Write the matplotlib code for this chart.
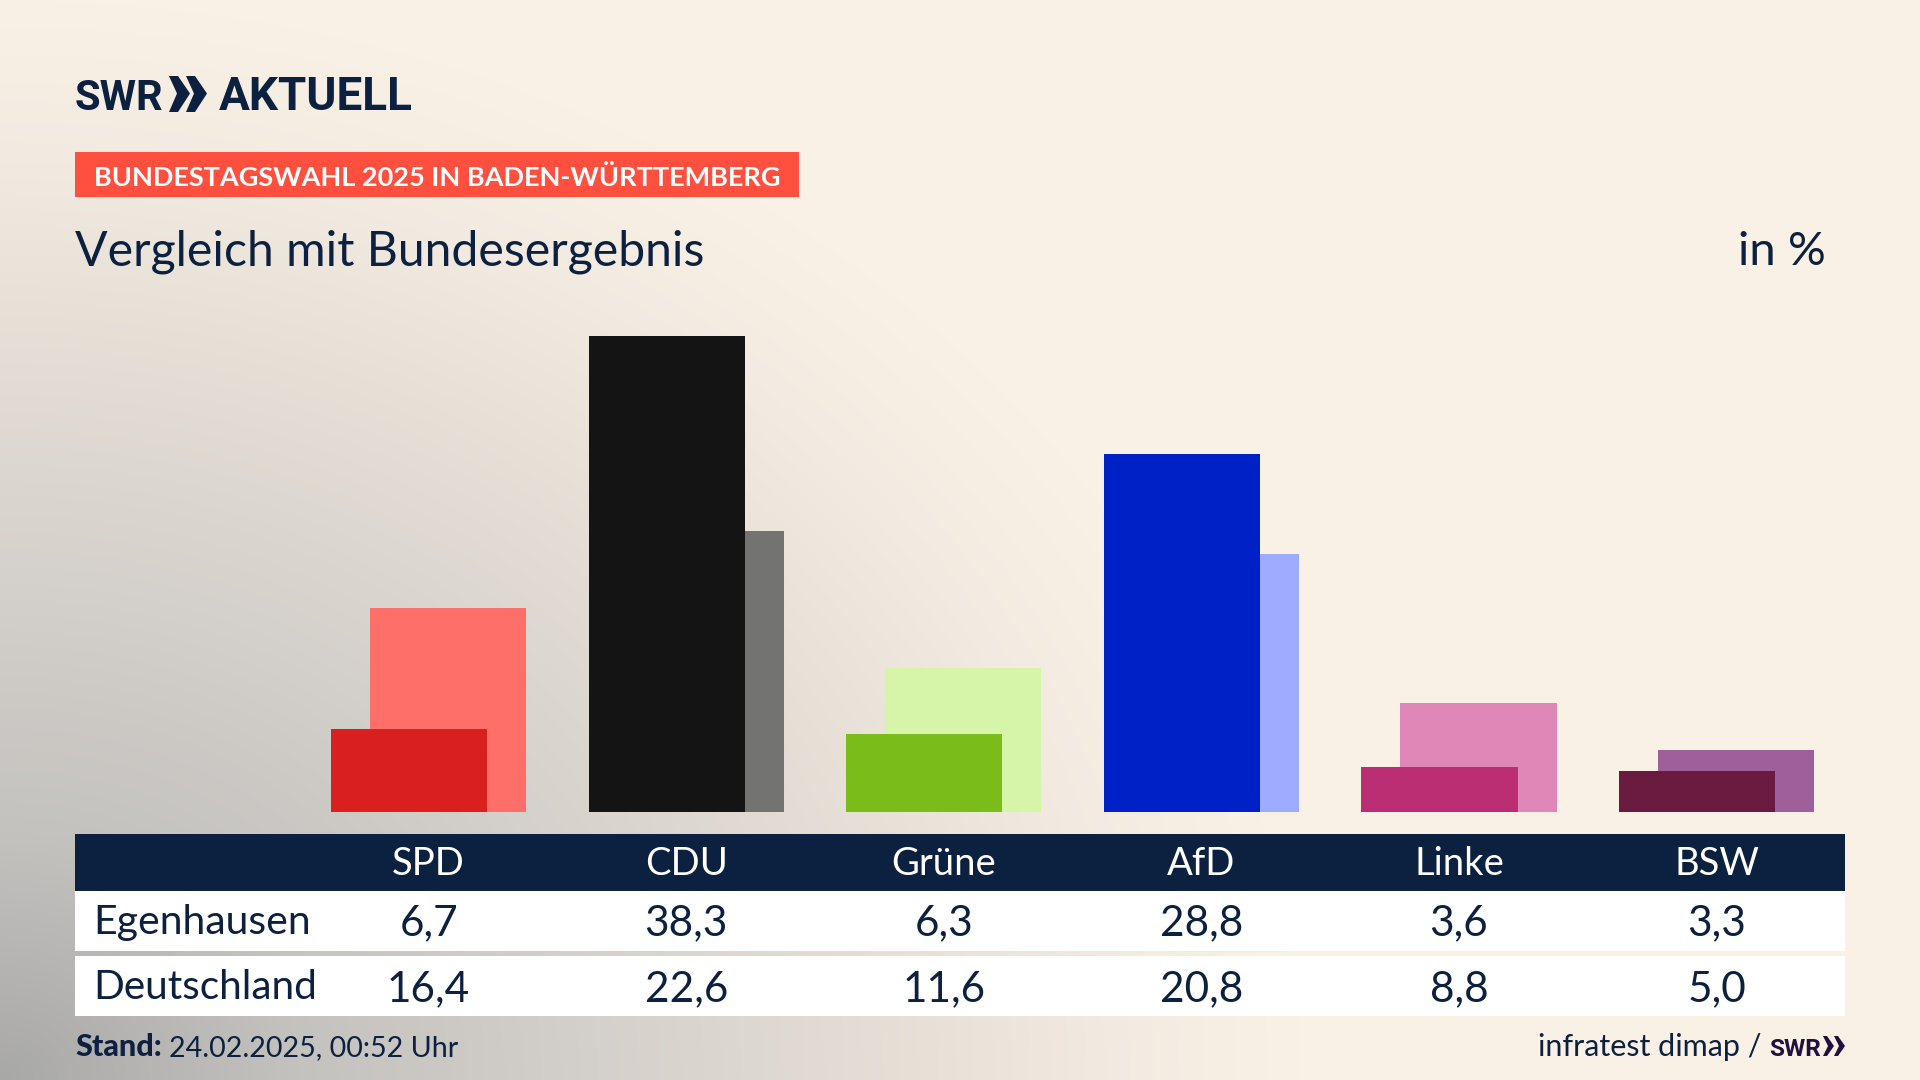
import numpy as np
import matplotlib
matplotlib.use("Agg")
import matplotlib.pyplot as plt
from matplotlib.patches import Rectangle, Polygon
from matplotlib.transforms import blended_transform_factory

parties = ["SPD", "CDU", "Grüne", "AfD", "Linke", "BSW"]
egenhausen = [6.7, 38.3, 6.3, 28.8, 3.6, 3.3]
deutschland = [16.4, 22.6, 11.6, 20.8, 8.8, 5.0]
dark_colors = ["#D9201E", "#141414", "#7ABD1A", "#0021C5", "#BB2E74", "#6B1A40"]
light_colors = ["#FF6F69", "#737371", "#D7F5A8", "#9EACFF", "#DF88B7", "#9E5F9A"]
row_labels = ["Egenhausen", "Deutschland"]

NAVY = "#0C2040"
FONT = "Lato"
LOGO = "Roboto"
W, H = 1920, 1080
fig = plt.figure(figsize=(W / 100, H / 100), dpi=100)

# background gradient from the lower left corner
bg = fig.add_axes([0, 0, 1, 1], zorder=0)
yy, xx = np.mgrid[0:H, 0:W]
d = np.sqrt((xx / 1300.0) ** 2 + ((H - yy) / 1080.0) ** 2)
stops_d = [0.0, 0.23, 0.46, 0.65, 0.85, 1.0]
stops_c = np.array([[0xA8, 0xA8, 0xA7], [0xC4, 0xC2, 0xBF], [0xD4, 0xD0, 0xCB],
                    [0xE2, 0xDC, 0xD4], [0xF2, 0xEA, 0xE0], [0xFA, 0xF1, 0xE6]]) / 255
img = np.dstack([np.interp(d, stops_d, stops_c[:, k]) for k in range(3)])
bg.imshow(img, extent=(0, W, H, 0), aspect="auto", interpolation="bilinear")
bg.set_xlim(0, W)
bg.set_ylim(H, 0)
bg.axis("off")

# page overlay in pixels
ov = fig.add_axes([0, 0, 1, 1], zorder=1)
ov.set_xlim(0, W)
ov.set_ylim(H, 0)
ov.axis("off")
ov.patch.set_alpha(0)

# bars
BASE, TOP = 812.0, 314.5
LEFT, RIGHT = 299.8, 1845.4
ax = fig.add_axes([LEFT / W, 1 - BASE / H, (RIGHT - LEFT) / W, (BASE - TOP) / H], zorder=2)
ax.patch.set_alpha(0)
ax.set_xlim(-0.5, 5.5)
ax.set_ylim(0, 40.05)
ax.axis("off")
x = np.arange(len(parties))
bw, off = 0.6056, 0.0757
ax.bar(x + off, deutschland, bw, color=light_colors, linewidth=0, zorder=2)
ax.bar(x - off, egenhausen, bw, color=dark_colors, linewidth=0, zorder=3)

# header
ov.text(75, 110, "SWR", fontfamily=LOGO, fontweight="bold", fontsize=30, color=NAVY, va="baseline", ha="left")
for xs in (169, 186):
    ov.add_patch(Polygon([(xs, 76), (xs + 9, 76), (xs + 21, 93.5), (xs + 9, 112), (xs, 112), (xs + 8, 93.5)],
                         closed=True, fc=NAVY, ec="none"))
ov.text(219, 110, "AKTUELL", fontfamily=LOGO, fontweight="bold", fontsize=33, color=NAVY, va="baseline", ha="left")

ov.add_patch(Rectangle((75, 152), 724, 45, fc="#FF4F3E", ec="none"))
ov.text(94, 175, "BUNDESTAGSWAHL 2025 IN BADEN-WÜRTTEMBERG", fontfamily=FONT, fontweight="bold",
        fontsize=19.5, color="white", va="center_baseline", ha="left")
ov.text(75, 265, "Vergleich mit Bundesergebnis", fontfamily=FONT, fontsize=34.7, color=NAVY, va="baseline", ha="left")
ov.text(1826, 265, "in %", fontfamily=FONT, fontsize=34, color=NAVY, va="baseline", ha="right")

# table
ov.add_patch(Rectangle((75, 834), 1770, 57, fc=NAVY, ec="none"))
ov.add_patch(Rectangle((75, 891), 1770, 60, fc="white", ec="none"))
ov.add_patch(Rectangle((75, 956), 1770, 60, fc="white", ec="none"))
tr = blended_transform_factory(ax.transData, ov.transData)
for i, p in enumerate(parties):
    ov.text(i, 875, p, transform=tr, fontfamily=FONT, fontsize=27.5, color="white", ha="center", va="baseline")
    ov.text(i, 935, f"{egenhausen[i]:.1f}".replace(".", ","), transform=tr, fontfamily=FONT, fontsize=30.5,
            color=NAVY, ha="center", va="baseline")
    ov.text(i, 1001, f"{deutschland[i]:.1f}".replace(".", ","), transform=tr, fontfamily=FONT, fontsize=30.5,
            color=NAVY, ha="center", va="baseline")
ov.text(93, 934, row_labels[0], fontfamily=FONT, fontsize=29.5, color=NAVY, va="baseline")
ov.text(93, 999, row_labels[1], fontfamily=FONT, fontsize=29.2, color=NAVY, va="baseline")

# footer
ov.text(75, 1056, "Stand:", fontfamily=FONT, fontweight="black", fontsize=22, color=NAVY, va="baseline")
ov.text(169, 1056, "24.02.2025, 00:52 Uhr", fontfamily=FONT, fontsize=20.6, color=NAVY, va="baseline")
ov.text(1762, 1056, "infratest dimap /", fontfamily=FONT, fontsize=22, color=NAVY, va="baseline", ha="right")
ov.text(1769, 1056, "SWR", fontfamily=LOGO, fontweight="bold", fontsize=17.5, color="#22103F", va="baseline", ha="left")
for xs in (1823, 1834):
    ov.add_patch(Polygon([(xs, 1036), (xs + 4, 1036), (xs + 11, 1046), (xs + 4, 1056), (xs, 1056), (xs + 5, 1046)],
                         closed=True, fc="#22103F", ec="none"))

fig.savefig("out.png", dpi=100)
